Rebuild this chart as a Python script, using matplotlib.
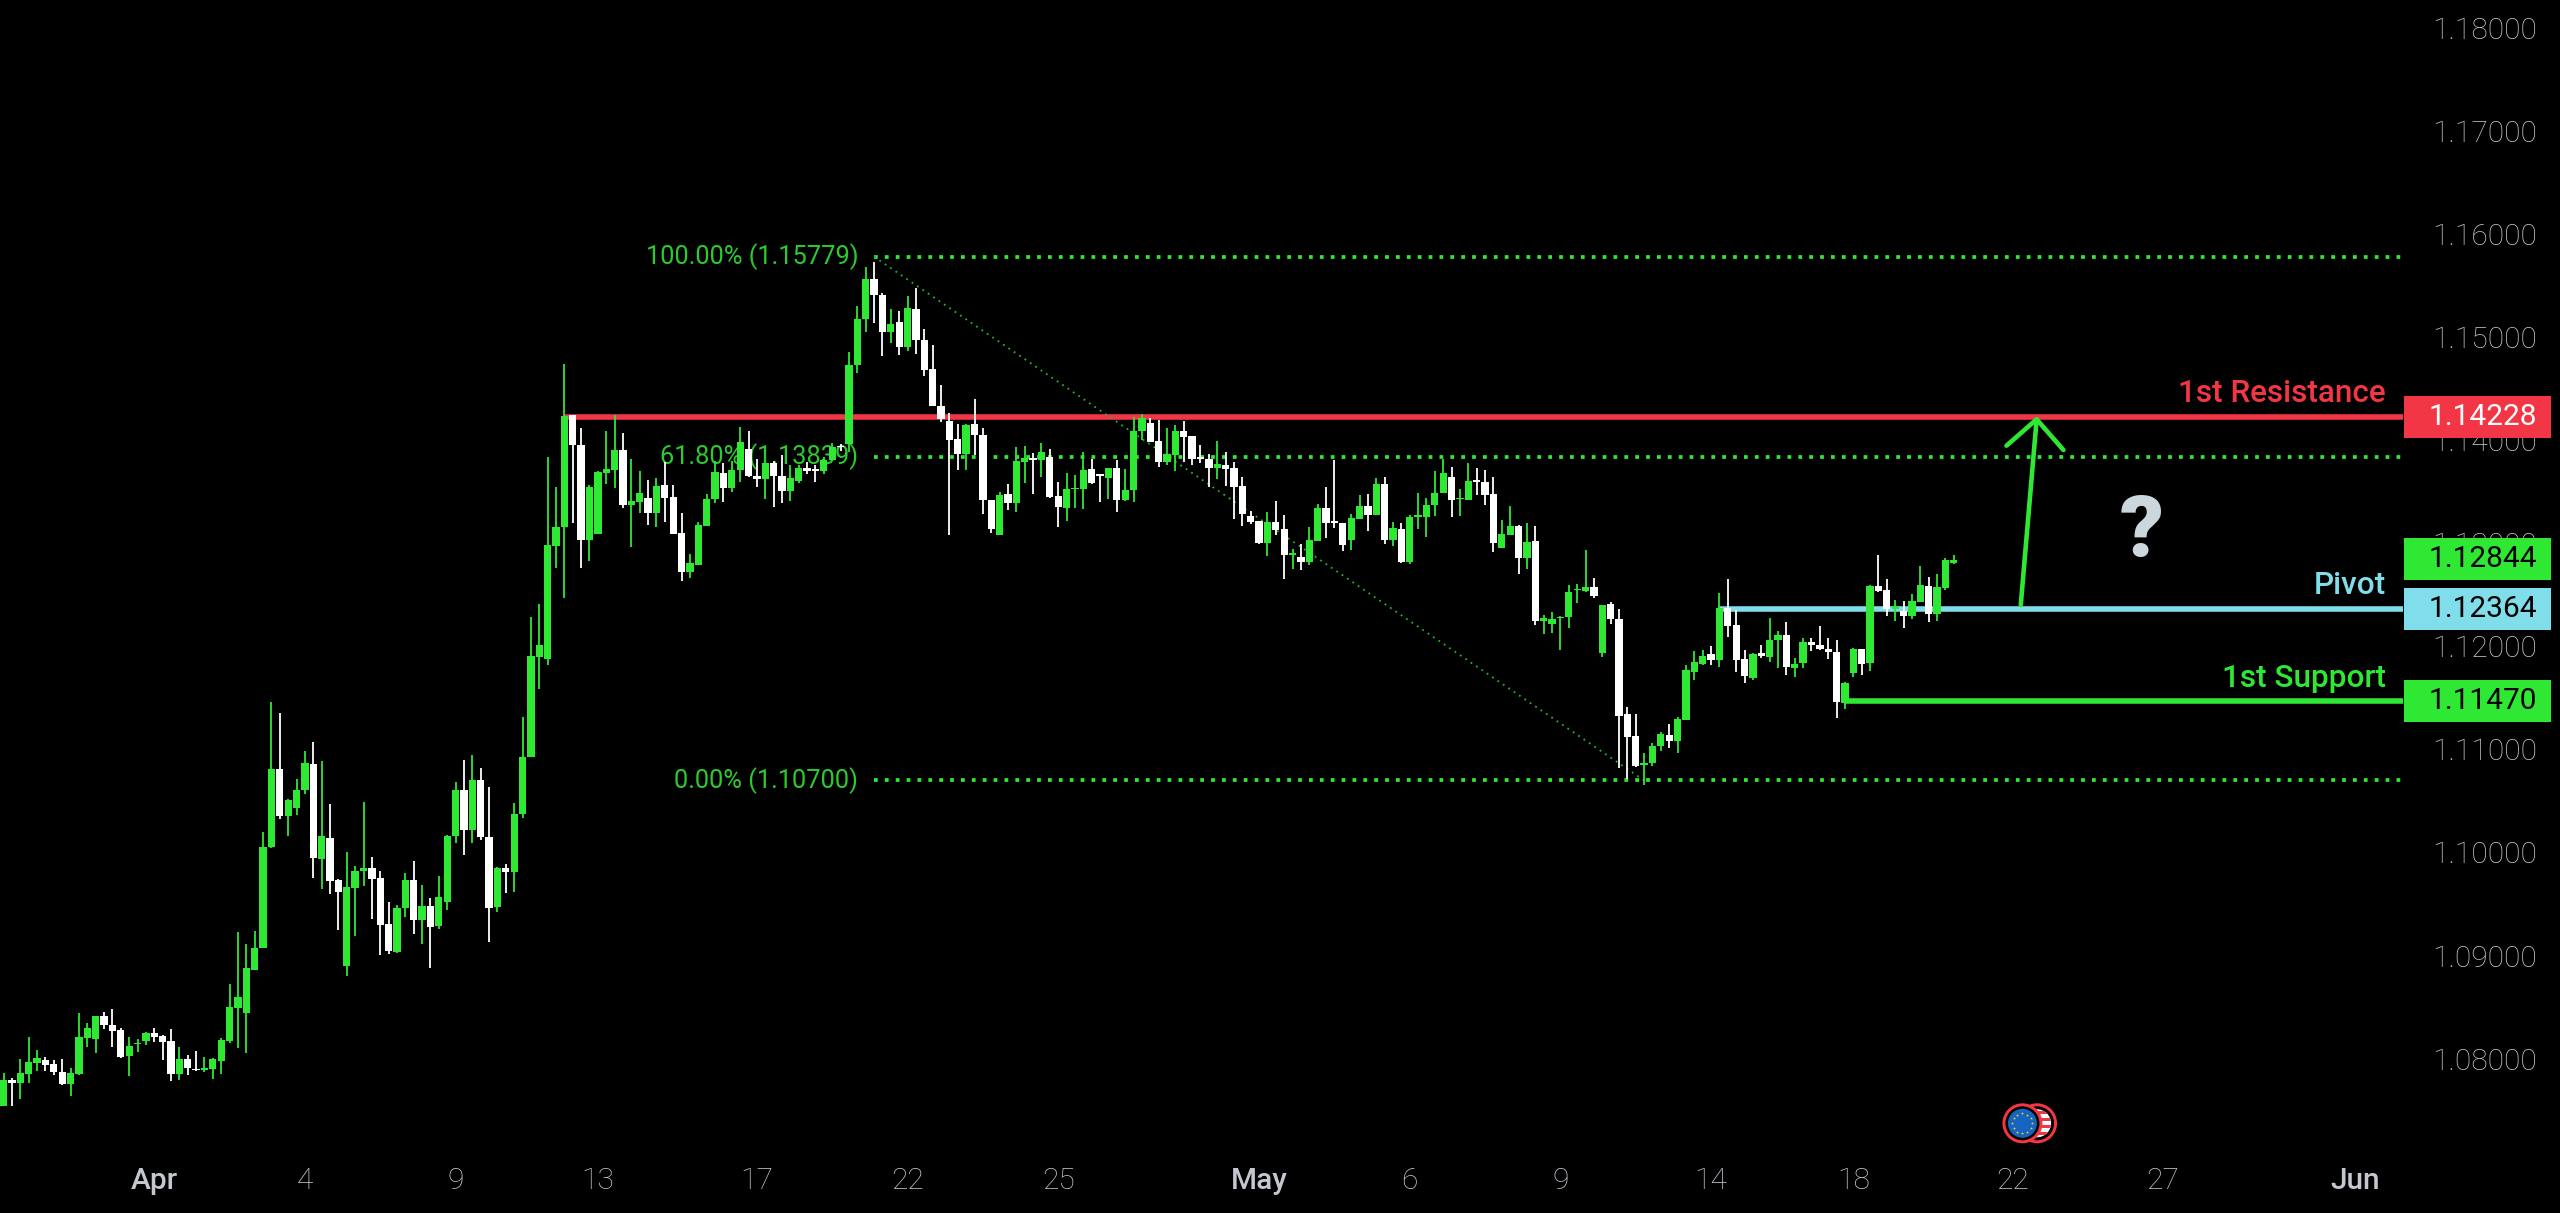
#!/usr/bin/env python3
import numpy as np
import matplotlib
matplotlib.use("Agg")
import matplotlib.pyplot as plt
from matplotlib.patches import Ellipse, Rectangle

plt.rcParams['font.family'] = ['Roboto', 'DejaVu Sans']

opens = [
    1.07541, 1.07793, 1.07768, 1.07855, 1.07955, 1.07984, 1.07949, 1.07874, 1.07755, 1.07852,
    1.08201, 1.08194, 1.08414, 1.08330, 1.08278, 1.08023, 1.08139, 1.08172, 1.08252, 1.08217,
    1.08172, 1.07855, 1.08000, 1.07903, 1.07894, 1.07900, 1.07981, 1.08172, 1.08495, 1.08443,
    1.08863, 1.09070, 1.10050, 1.10807, 1.10354, 1.10435, 1.10603, 1.10858, 1.09934, 1.10144,
    1.09733, 1.08899, 1.09656, 1.09820, 1.09850, 1.09749, 1.09306, 1.09032, 1.09462, 1.09733,
    1.09345, 1.09484, 1.09290, 1.09523, 1.10157, 1.10606, 1.10221, 1.10706, 1.10153, 1.09475,
    1.09846, 1.09811, 1.10370, 1.10926, 1.11896, 1.11874, 1.12976, 1.13154, 1.14244, 1.13956,
    1.13031, 1.13093, 1.13681, 1.13710, 1.13904, 1.13371, 1.13397, 1.13439, 1.13290, 1.13565,
    1.13445, 1.13099, 1.12721, 1.12789, 1.13170, 1.13426, 1.13678, 1.13539, 1.13710, 1.13911,
    1.13652, 1.13620, 1.13775, 1.13652, 1.13503, 1.13600, 1.13730, 1.13717, 1.13700, 1.13807,
    1.13946, 1.13959, 1.14729, 1.15175, 1.15560, 1.15411, 1.15049, 1.15142, 1.14906, 1.15275,
    1.14971, 1.14687, 1.14331, 1.14186, 1.14008, 1.13865, 1.14153, 1.14053, 1.13419, 1.13083,
    1.13474, 1.13387, 1.13791, 1.13823, 1.13807, 1.13840, 1.13455, 1.13342, 1.13523, 1.13523,
    1.13723, 1.13668, 1.13629, 1.13730, 1.13416, 1.13513, 1.14085, 1.14163, 1.13991, 1.13788,
    1.13853, 1.14088, 1.14043, 1.13833, 1.13820, 1.13726, 1.13759, 1.13730, 1.13552, 1.13261,
    1.13216, 1.13002, 1.13206, 1.13135, 1.12889, 1.12866, 1.12818, 1.13021, 1.13342, 1.13215,
    1.13196, 1.13031, 1.13238, 1.13358, 1.13270, 1.13574, 1.13031, 1.13135, 1.12815, 1.13257,
    1.13254, 1.13371, 1.13487, 1.13642, 1.13426, 1.13422, 1.13610, 1.13597, 1.13474, 1.12950,
    1.13083, 1.13170, 1.12860, 1.13018, 1.12246, 1.12216, 1.12275, 1.12281, 1.12543, 1.12536,
    1.12572, 1.11932, 1.12414, 1.12268, 1.11340, 1.11127, 1.10852, 1.10871, 1.11033, 1.11143,
    1.11085, 1.11289, 1.11754, 1.11825, 1.11922, 1.11867, 1.12368, 1.12207, 1.11877, 1.11693,
    1.11932, 1.11896, 1.12058, 1.12110, 1.11790, 1.11841, 1.12042, 1.12009, 1.11974, 1.11948,
    1.11447, 1.11744, 1.11974, 1.11835, 1.12582, 1.12543, 1.12362, 1.12339, 1.12297, 1.12433,
    1.12588, 1.12310, 1.12565, 1.12808,
]
highs = [
    1.07858, 1.07816, 1.07994, 1.08207, 1.08084, 1.08013, 1.07987, 1.07994, 1.07913, 1.08440,
    1.08349, 1.08414, 1.08450, 1.08482, 1.08294, 1.08207, 1.08188, 1.08259, 1.08294, 1.08227,
    1.08285, 1.08117, 1.08036, 1.08075, 1.08013, 1.08010, 1.08198, 1.08724, 1.09232, 1.09109,
    1.09242, 1.10196, 1.11456, 1.11350, 1.10516, 1.10710, 1.10984, 1.11072, 1.10884, 1.10474,
    1.09740, 1.10002, 1.09866, 1.10493, 1.09956, 1.09824, 1.09517, 1.09491, 1.09798, 1.09914,
    1.09681, 1.09555, 1.09769, 1.10170, 1.10680, 1.10894, 1.10949, 1.10816, 1.10632, 1.09856,
    1.09888, 1.10477, 1.11311, 1.12287, 1.12410, 1.13839, 1.13545, 1.14735, 1.14244, 1.14114,
    1.13561, 1.13704, 1.14088, 1.14240, 1.14072, 1.13814, 1.13697, 1.13610, 1.13633, 1.13788,
    1.13565, 1.13296, 1.12892, 1.13209, 1.13477, 1.13801, 1.13775, 1.13801, 1.14124, 1.14092,
    1.13814, 1.13781, 1.13794, 1.13856, 1.13759, 1.13759, 1.13784, 1.13759, 1.13839, 1.13975,
    1.13959, 1.14858, 1.15304, 1.15676, 1.15731, 1.15424, 1.15269, 1.15252, 1.15401, 1.15472,
    1.15075, 1.14919, 1.14538, 1.14260, 1.14153, 1.14153, 1.14396, 1.14114, 1.13419, 1.13494,
    1.13571, 1.13930, 1.13946, 1.13872, 1.13972, 1.13911, 1.13591, 1.13678, 1.13662, 1.13882,
    1.13820, 1.13671, 1.13730, 1.13807, 1.13723, 1.14221, 1.14253, 1.14218, 1.14195, 1.14114,
    1.14143, 1.14189, 1.14043, 1.13956, 1.13865, 1.13992, 1.13885, 1.13785, 1.13642, 1.13316,
    1.13216, 1.13303, 1.13413, 1.13277, 1.12941, 1.12989, 1.13154, 1.13377, 1.13545, 1.13804,
    1.13199, 1.13280, 1.13464, 1.13477, 1.13632, 1.13642, 1.13206, 1.13196, 1.13270, 1.13490,
    1.13438, 1.13700, 1.13814, 1.13742, 1.13523, 1.13778, 1.13726, 1.13707, 1.13642, 1.13225,
    1.13358, 1.13177, 1.13196, 1.13164, 1.12307, 1.12333, 1.12297, 1.12591, 1.12601, 1.12931,
    1.12663, 1.12404, 1.12430, 1.12362, 1.11411, 1.11344, 1.10962, 1.11059, 1.11172, 1.11246,
    1.11311, 1.11822, 1.11951, 1.11964, 1.12003, 1.12520, 1.12653, 1.12352, 1.11964, 1.11938,
    1.12009, 1.12278, 1.12145, 1.12232, 1.11883, 1.12080, 1.12084, 1.12197, 1.12084, 1.12058,
    1.11654, 1.11984, 1.11974, 1.12591, 1.12886, 1.12653, 1.12446, 1.12439, 1.12510, 1.12779,
    1.12672, 1.12698, 1.12856, 1.12886,
]
lows = [
    1.07541, 1.07541, 1.07606, 1.07768, 1.07884, 1.07884, 1.07845, 1.07748, 1.07641, 1.07845,
    1.08110, 1.08052, 1.08291, 1.08110, 1.08004, 1.07835, 1.08068, 1.08136, 1.08165, 1.07987,
    1.07781, 1.07790, 1.07842, 1.07884, 1.07871, 1.07800, 1.07855, 1.08149, 1.08107, 1.08052,
    1.08863, 1.09070, 1.10040, 1.10328, 1.10157, 1.10364, 1.10567, 1.09756, 1.09646, 1.09594,
    1.09245, 1.08799, 1.09193, 1.09675, 1.09352, 1.09003, 1.09012, 1.09028, 1.09371, 1.09209,
    1.09112, 1.08880, 1.09255, 1.09442, 1.10095, 1.09979, 1.10095, 1.10121, 1.09129, 1.09426,
    1.09610, 1.09620, 1.10338, 1.10926, 1.11586, 1.11815, 1.12763, 1.12472, 1.13199, 1.12763,
    1.12828, 1.13093, 1.13574, 1.13532, 1.13345, 1.12960, 1.13290, 1.13173, 1.13157, 1.13209,
    1.13093, 1.12637, 1.12666, 1.12789, 1.13167, 1.13387, 1.13403, 1.13494, 1.13594, 1.13645,
    1.13548, 1.13432, 1.13354, 1.13387, 1.13413, 1.13581, 1.13671, 1.13594, 1.13675, 1.13801,
    1.13898, 1.13888, 1.14654, 1.15049, 1.15136, 1.14816, 1.14942, 1.14826, 1.14864, 1.14835,
    1.14622, 1.14328, 1.14173, 1.13083, 1.13710, 1.13710, 1.13856, 1.13283, 1.13102, 1.13083,
    1.13326, 1.13306, 1.13584, 1.13477, 1.13639, 1.13442, 1.13157, 1.13219, 1.13345, 1.13335,
    1.13574, 1.13397, 1.13432, 1.13300, 1.13413, 1.13397, 1.14001, 1.13979, 1.13743, 1.13762,
    1.13701, 1.13788, 1.13762, 1.13775, 1.13549, 1.13620, 1.13555, 1.13238, 1.13170, 1.13190,
    1.12993, 1.12879, 1.13083, 1.12656, 1.12753, 1.12743, 1.12789, 1.13021, 1.13047, 1.13148,
    1.12924, 1.12934, 1.13238, 1.13122, 1.13270, 1.12992, 1.12976, 1.12805, 1.12802, 1.13138,
    1.13057, 1.13264, 1.13484, 1.13254, 1.13261, 1.13422, 1.13468, 1.13367, 1.12915, 1.12950,
    1.13083, 1.12698, 1.12753, 1.12210, 1.12119, 1.12132, 1.11964, 1.12181, 1.12423, 1.12530,
    1.12465, 1.11896, 1.12216, 1.10823, 1.10713, 1.10829, 1.10655, 1.10839, 1.10988, 1.11010,
    1.10968, 1.11289, 1.11673, 1.11819, 1.11822, 1.11796, 1.12090, 1.11751, 1.11644, 1.11673,
    1.11887, 1.11848, 1.11790, 1.11725, 1.11699, 1.11790, 1.11958, 1.11964, 1.11877, 1.11308,
    1.11392, 1.11699, 1.11725, 1.11764, 1.12530, 1.12294, 1.12242, 1.12181, 1.12262, 1.12430,
    1.12236, 1.12245, 1.12546, 1.12798,
]
closes = [
    1.07793, 1.07768, 1.07865, 1.07965, 1.08010, 1.07942, 1.07871, 1.07755, 1.07858, 1.08207,
    1.08294, 1.08414, 1.08327, 1.08272, 1.08020, 1.08126, 1.08152, 1.08252, 1.08210, 1.08165,
    1.07855, 1.08000, 1.07910, 1.07890, 1.07910, 1.07994, 1.08181, 1.08501, 1.08598, 1.08876,
    1.09070, 1.10053, 1.10807, 1.10354, 1.10509, 1.10606, 1.10865, 1.09943, 1.10160, 1.09727,
    1.09620, 1.09662, 1.09824, 1.09850, 1.09746, 1.09300, 1.09041, 1.09465, 1.09733, 1.09345,
    1.09484, 1.09281, 1.09572, 1.10163, 1.10606, 1.10221, 1.10706, 1.10147, 1.09462, 1.09850,
    1.09814, 1.10373, 1.10929, 1.11906, 1.12009, 1.12982, 1.13154, 1.14234, 1.13949, 1.13031,
    1.13545, 1.13687, 1.13723, 1.13904, 1.13371, 1.13409, 1.13490, 1.13290, 1.13552, 1.13442,
    1.13093, 1.12721, 1.12811, 1.13177, 1.13429, 1.13687, 1.13539, 1.13713, 1.13982, 1.13655,
    1.13623, 1.13775, 1.13649, 1.13503, 1.13633, 1.13733, 1.13704, 1.13700, 1.13807, 1.13936,
    1.13933, 1.14732, 1.15178, 1.15560, 1.15408, 1.15049, 1.15126, 1.14906, 1.15285, 1.14968,
    1.14683, 1.14328, 1.14202, 1.14004, 1.13865, 1.14150, 1.14050, 1.13416, 1.13141, 1.13465,
    1.13387, 1.13794, 1.13823, 1.13807, 1.13882, 1.13452, 1.13355, 1.13526, 1.13536, 1.13713,
    1.13584, 1.13652, 1.13730, 1.13416, 1.13516, 1.14088, 1.14215, 1.13985, 1.13788, 1.13865,
    1.14088, 1.14030, 1.13817, 1.13817, 1.13726, 1.13768, 1.13717, 1.13549, 1.13280, 1.13206,
    1.13002, 1.13206, 1.13128, 1.12886, 1.12902, 1.12818, 1.13028, 1.13342, 1.13199, 1.13199,
    1.12986, 1.13241, 1.13358, 1.13270, 1.13574, 1.13031, 1.13144, 1.12815, 1.13254, 1.13270,
    1.13374, 1.13490, 1.13681, 1.13416, 1.13438, 1.13600, 1.13597, 1.13468, 1.13002, 1.13089,
    1.13170, 1.12860, 1.13012, 1.12246, 1.12278, 1.12268, 1.12288, 1.12527, 1.12553, 1.12572,
    1.12485, 1.12404, 1.12262, 1.11327, 1.11120, 1.10842, 1.10865, 1.11036, 1.11153, 1.11085,
    1.11295, 1.11770, 1.11848, 1.11909, 1.11867, 1.12368, 1.12197, 1.11867, 1.11709, 1.11929,
    1.11903, 1.12061, 1.12110, 1.11799, 1.11828, 1.12038, 1.12013, 1.11974, 1.11941, 1.11457,
    1.11644, 1.11974, 1.11832, 1.12582, 1.12533, 1.12362, 1.12391, 1.12297, 1.12436, 1.12598,
    1.12310, 1.12572, 1.12840, 1.12837,
]

price_ticks = [1.08, 1.09, 1.10, 1.11, 1.12, 1.13, 1.14, 1.15, 1.16, 1.17, 1.18]
date_ticks = [18, 36, 54, 71, 90, 108, 126, 150, 168, 186, 204, 221, 240, 258, 281]
date_labels = ["Apr", "4", "9", "13", "17", "22", "25", "May", "6", "9", "14", "18", "22", "27", "Jun"]
months = ["Apr", "May", "Jun"]

level_names = ["1st Resistance", "Pivot", "1st Support"]
level_prices = [1.14228, 1.12364, 1.11470]
level_starts = [67, 205, 220]
level_name_y = [1.14372, 1.12507, 1.11605]

fib_prices = [1.15779, 1.13839, 1.10700]
fib_labels = ["100.00% (1.15779)", "61.80% (1.13839)", "0.00% (1.10700)"]
fib_start = 104
fib_trend_x = [104, 196]
fib_trend_y = [1.15779, 1.10700]

box_prices = [1.14228, 1.12844, 1.12364, 1.11470]

arrow_x = [241.0, 242.9]
arrow_y = [1.12400, 1.14202]
head_x = [239.3, 242.9, 246.1]
head_y = [1.13946, 1.14202, 1.13904]

GREEN = "#2FE833"
WHITE = "#FFFFFF"
RED = "#F23645"
CYAN = "#80DEEA"
GREY = "#C4C7CF"
FIB_TEXT = "#2BCB2F"
level_colors = [RED, CYAN, GREEN]
box_colors = [RED, GREEN, CYAN, GREEN]
box_text = [WHITE, "#000000", "#000000", "#000000"]

W, H = 2560, 1213
fig = plt.figure(figsize=(W / 100, H / 100), dpi=100, facecolor="black")
ax = fig.add_axes([0, 63 / H, 2403 / W, 1150 / H], facecolor="black")
ax.set_xlim(-0.43, 286.67)
ax.set_ylim(1.07114, 1.18269)
for s in ax.spines.values():
    s.set_visible(False)

# levels and fib sit under the candles
for p, st, c in zip(level_prices, level_starts, level_colors):
    ax.plot([st, 286.67], [p, p], color=c, lw=4.0, solid_capstyle="butt", zorder=1)
for p in fib_prices:
    ax.plot([fib_start, 286.67], [p, p], color=GREEN, lw=2.7, ls=(0, (1, 1.9)),
            dash_capstyle="butt", zorder=1)
ax.plot(fib_trend_x, fib_trend_y, color="#25B528", lw=1.3, ls=(0, (1, 2.6)),
        dash_capstyle="butt", zorder=1)
for p, lab in zip(fib_prices, fib_labels):
    ax.text(102.1, p, lab, color=FIB_TEXT, fontsize=18.3, fontweight="normal",
            ha="right", va="center", zorder=1)

o = np.array(opens)
c = np.array(closes)
x = np.arange(len(o))
cols = np.where(c >= o, GREEN, WHITE)
ax.vlines(x, lows, highs, colors=cols, linewidth=1.3, capstyle="butt", zorder=3)
ax.bar(x, np.abs(c - o), bottom=np.minimum(o, c), width=0.87, color=cols, linewidth=0, zorder=3)

# drawn on top: target arrow and question mark
ax.plot(arrow_x, arrow_y, color=GREEN, lw=3.3, solid_capstyle="round", zorder=4)
ax.plot(head_x, head_y, color=GREEN, lw=3.3, solid_capstyle="round", solid_joinstyle="round", zorder=4)
ax.text(255.5, 1.13098, "?", color="#CCD6DD", fontsize=62, fontweight="black",
        ha="center", va="center", zorder=4)

for name, p, st, col in zip(level_names, level_name_y, level_starts, level_colors):
    ax.text(284.6, p, name, color=col, fontsize=22.7, fontweight="medium",
            ha="right", va="baseline", zorder=4)

# axes ticks
ax.yaxis.tick_right()
ax.set_yticks(price_ticks)
ax.set_yticklabels([f"{v:.5f}" for v in price_ticks])
ax.tick_params(axis="y", length=0, pad=96.5, labelcolor=GREY, labelsize=21.5)
for lab in ax.get_yticklabels():
    lab.set_ha("right")
    lab.set_fontweight("light")
ax.set_xticks(date_ticks)
ax.set_xticklabels(date_labels)
ax.tick_params(axis="x", length=0, pad=12, labelcolor=GREY, labelsize=21.5)
for lab in ax.get_xticklabels():
    lab.set_fontweight("medium" if lab.get_text() in months else "light")

# price boxes on the right axis
tr = ax.get_yaxis_transform()
for p, bc, tc in zip(box_prices, box_colors, box_text):
    ax.add_patch(Rectangle((1.00025, p - 0.00203), 0.06125, 0.00406, transform=tr,
                           facecolor=bc, edgecolor="none", clip_on=False, zorder=6))
    ax.text(1.05576, p, f"{p:.5f}", transform=tr, color=tc, fontsize=21.5, fontweight="normal",
            ha="right", va="center", clip_on=False, zorder=7)

# EURUSD badge
bx, by = 241.2, 1.07373
ux, uy = 1 / 8.37, 1 / 10309


def disc(cx, r, color, z):
    e = Ellipse((cx, by), 2 * r * ux, 2 * r * uy, facecolor=color, edgecolor="none", zorder=z)
    ax.add_patch(e)
    return e


back = bx + 1.75
disc(back, 20, RED, 5)
disc(back, 17, "black", 5.1)
clip = disc(back, 14, WHITE, 5.2)
stripes = [-12, -5, 2, 9]
for sy in stripes:
    r = Rectangle((back - 2, by + sy * uy), 4, 3.5 * uy, facecolor=RED, edgecolor="none", zorder=5.3)
    ax.add_patch(r)
    r.set_clip_path(clip)
disc(bx, 20, RED, 5.5)
disc(bx, 17, "black", 5.6)
disc(bx, 14.5, "#1565C0", 5.7)
ang = np.linspace(0, 2 * np.pi, 12, endpoint=False)
ax.scatter(bx + 10 * np.cos(ang) * ux, by + 10 * np.sin(ang) * uy, s=5, marker="*",
           color="#FFD21E", linewidth=0, zorder=5.8)

fig.savefig("out.png", dpi=100, facecolor="black")
